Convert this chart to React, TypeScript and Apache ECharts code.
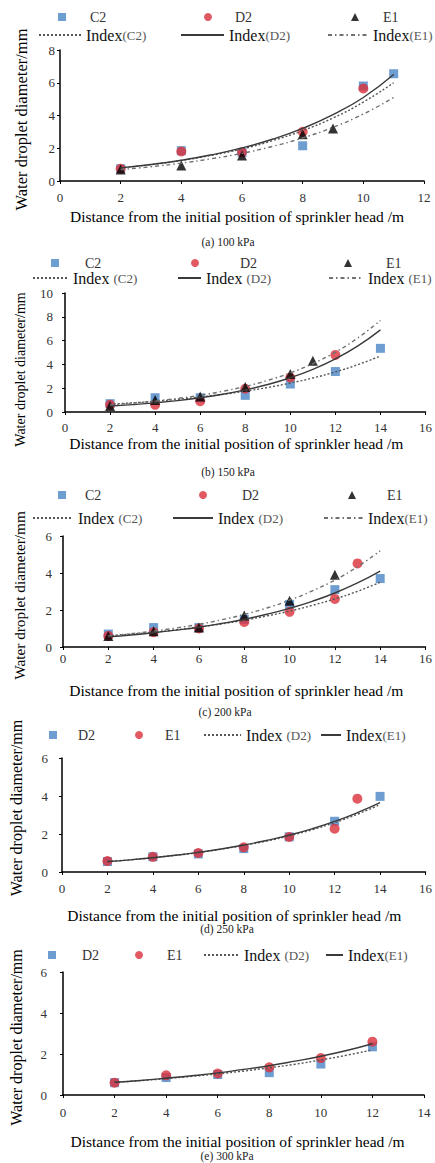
import React, { useEffect, useRef } from "react";
import * as echarts from "echarts";

// ---------------- data ----------------
// (a) 100 kPa
const a_C2 = [[2, 0.75], [4, 1.85], [6, 1.75], [8, 2.15], [10, 5.8], [11, 6.55]];
const a_D2 = [[2, 0.75], [4, 1.8], [6, 1.75], [8, 3.0], [10, 5.65]];
const a_E1 = [[2, 0.7], [4, 0.95], [6, 1.55], [8, 2.85], [9, 3.2]];
const a_fitX = [2, 3, 4, 5, 6, 7, 8, 9, 10, 11];
const a_fitC2 = [0.8, 1.0, 1.25, 1.57, 1.96, 2.46, 3.08, 3.85, 4.82, 6.0];
const a_fitD2 = [0.8, 1.01, 1.27, 1.6, 2.02, 2.55, 3.21, 4.05, 5.1, 6.5];
const a_fitE1 = [0.7, 0.87, 1.09, 1.36, 1.69, 2.11, 2.63, 3.28, 4.09, 5.1];

// (b) 150 kPa
const b_C2 = [[2, 0.7], [4, 1.2], [6, 1.2], [8, 1.4], [10, 2.35], [12, 3.4], [14, 5.35]];
const b_D2 = [[2, 0.6], [4, 0.6], [6, 0.9], [8, 1.95], [10, 2.9], [12, 4.8]];
const b_E1 = [[2, 0.5], [4, 1.0], [6, 1.3], [8, 2.1], [10, 3.2], [11, 4.3]];
const b_fitX = [2, 3, 4, 5, 6, 7, 8, 9, 10, 11, 12, 13, 14];
const b_fitC2 = [0.65, 0.77, 0.9, 1.07, 1.26, 1.48, 1.75, 2.06, 2.43, 2.86, 3.37, 3.98, 4.7];
const b_fitD2 = [0.5, 0.62, 0.77, 0.96, 1.2, 1.49, 1.86, 2.31, 2.88, 3.58, 4.46, 5.55, 6.9];
const b_fitE1 = [0.6, 0.74, 0.92, 1.14, 1.4, 1.74, 2.15, 2.66, 3.29, 4.07, 5.03, 6.23, 7.7];

// (c) 200 kPa
const c_C2 = [[2, 0.7], [4, 1.05], [6, 1.05], [8, 1.5], [10, 2.3], [12, 3.1], [14, 3.7]];
const c_D2 = [[2, 0.6], [4, 0.8], [6, 1.0], [8, 1.35], [10, 1.9], [12, 2.6], [13, 4.52]];
const c_E1 = [[2, 0.6], [4, 0.85], [6, 1.05], [8, 1.7], [10, 2.5], [12, 3.9]];
const c_fitX = [2, 3, 4, 5, 6, 7, 8, 9, 10, 11, 12, 13, 14];
const c_fitC2 = [0.6, 0.7, 0.8, 0.93, 1.08, 1.25, 1.45, 1.68, 1.94, 2.25, 2.6, 3.01, 3.5];
const c_fitD2 = [0.55, 0.65, 0.77, 0.91, 1.07, 1.27, 1.5, 1.77, 2.09, 2.47, 2.92, 3.46, 4.1];
const c_fitE1 = [0.6, 0.72, 0.86, 1.03, 1.23, 1.47, 1.76, 2.11, 2.53, 3.03, 3.62, 4.34, 5.2];

// (d) 250 kPa
const d_D2 = [[2, 0.55], [4, 0.8], [6, 0.95], [8, 1.23], [10, 1.85], [12, 2.67], [14, 3.98]];
const d_E1 = [[2, 0.58], [4, 0.8], [6, 1.0], [8, 1.3], [10, 1.84], [12, 2.28], [13, 3.86]];
const d_fitX = [2, 3, 4, 5, 6, 7, 8, 9, 10, 11, 12, 13, 14];
const d_fitD2 = [0.55, 0.64, 0.75, 0.88, 1.02, 1.2, 1.4, 1.63, 1.9, 2.22, 2.6, 3.04, 3.55];
const d_fitE1 = [0.55, 0.64, 0.75, 0.88, 1.03, 1.21, 1.42, 1.66, 1.94, 2.27, 2.66, 3.12, 3.65];

// (e) 300 kPa
const e_D2 = [[2, 0.6], [4, 0.85], [6, 1.0], [8, 1.09], [10, 1.51], [12, 2.35]];
const e_E1 = [[2, 0.6], [4, 0.96], [6, 1.05], [8, 1.35], [10, 1.8], [12, 2.6]];
const e_fitX = [2, 3, 4, 5, 6, 7, 8, 9, 10, 11, 12];
const e_fitD2 = [0.62, 0.7, 0.8, 0.91, 1.03, 1.17, 1.33, 1.5, 1.71, 1.94, 2.2];
const e_fitE1 = [0.62, 0.71, 0.82, 0.94, 1.08, 1.25, 1.43, 1.65, 1.89, 2.17, 2.5];

const captions = ["(a) 100 kPa", "(b) 150 kPa", "(c) 200 kPa", "(d) 250 kPa", "(e) 300 kPa"];
const xAxisTitle = "Distance from the initial position of sprinkler head /m";
const yAxisTitle = "Water droplet diameter/mm";

// ---------------- styles ----------------
const FONT = '"Liberation Serif", "Times New Roman", serif';
const BLUE = "#4a84c6";
const RED = "#db2f3b";
const BLACK = "#000000";
const SOLID = { type: "solid", color: "#3a3a3a", width: 1.4 };
const DOTTED = { type: [2, 2], color: "#555555", width: 1.4 };
const DASHDOT = { type: [4, 3, 1.5, 3], color: "#707070", width: 1.4 };

const pairs = (xs: number[], ys: number[]) => xs.map((x, i) => [x, ys[i]]);

type Panel = {
  grid: { left: number; top: number; width: number; height: number };
  xMax: number;
  yMax: number;
  xLabelMargin: number;
  yLabelMargin: number;
  xNameGap: number;
  xNamePadR: number;
  yNameGap: number;
  yNameShift: number;
  yNameSize: number;
  caption: { x: number; y: number };
  scatters: { name: string; data: number[][]; symbol: string; color: string; size: number }[];
  fits: { name: string; x: number[]; y: number[]; style: any }[];
};

const panels: Panel[] = [
  {
    grid: { left: 60, top: 50, width: 364, height: 131 },
    xMax: 12, yMax: 8, xLabelMargin: 10, yLabelMargin: 5, xNameGap: 27, xNamePadR: 10,
    yNameGap: 30, yNameShift: 4, yNameSize: 16.5,
    caption: { x: 228, y: 242 },
    scatters: [
      { name: "a:C2", data: a_C2, symbol: "rect", color: BLUE, size: 9 },
      { name: "a:D2", data: a_D2, symbol: "circle", color: RED, size: 10 },
      { name: "a:E1", data: a_E1, symbol: "triangle", color: BLACK, size: 10 },
    ],
    fits: [
      { name: "a:Index|(C2)", x: a_fitX, y: a_fitC2, style: DOTTED },
      { name: "a:Index|(D2)", x: a_fitX, y: a_fitD2, style: SOLID },
      { name: "a:Index|(E1)", x: a_fitX, y: a_fitE1, style: DASHDOT },
    ],
  },
  {
    grid: { left: 65, top: 293, width: 362, height: 119 },
    xMax: 16, yMax: 10, xLabelMargin: 9, yLabelMargin: 12, xNameGap: 23, xNamePadR: 18,
    yNameGap: 38, yNameShift: 17, yNameSize: 14,
    caption: { x: 228, y: 472 },
    scatters: [
      { name: "b:C2", data: b_C2, symbol: "rect", color: BLUE, size: 9 },
      { name: "b:D2", data: b_D2, symbol: "circle", color: RED, size: 10 },
      { name: "b:E1", data: b_E1, symbol: "triangle", color: BLACK, size: 10 },
    ],
    fits: [
      { name: "b:Index |(C2)", x: b_fitX, y: b_fitC2, style: DOTTED },
      { name: "b:Index |(D2)", x: b_fitX, y: b_fitD2, style: SOLID },
      { name: "b:Index |(E1)", x: b_fitX, y: b_fitE1, style: DASHDOT },
    ],
  },
  {
    grid: { left: 63, top: 536, width: 364, height: 111 },
    xMax: 16, yMax: 6, xLabelMargin: 5, yLabelMargin: 11, xNameGap: 35, xNamePadR: 16,
    yNameGap: 36, yNameShift: 4, yNameSize: 15.3,
    caption: { x: 225, y: 712 },
    scatters: [
      { name: "c:C2", data: c_C2, symbol: "rect", color: BLUE, size: 9 },
      { name: "c:D2", data: c_D2, symbol: "circle", color: RED, size: 10 },
      { name: "c:E1", data: c_E1, symbol: "triangle", color: BLACK, size: 10 },
    ],
    fits: [
      { name: "c:Index |(C2)", x: c_fitX, y: c_fitC2, style: DOTTED },
      { name: "c:Index |(D2)", x: c_fitX, y: c_fitD2, style: SOLID },
      { name: "c:Index|(E1)", x: c_fitX, y: c_fitE1, style: DASHDOT },
    ],
  },
  {
    grid: { left: 61, top: 758, width: 371, height: 114 },
    xMax: 16, yMax: 6, xLabelMargin: 10, yLabelMargin: 14, xNameGap: 35, xNamePadR: 19,
    yNameGap: 38, yNameShift: -7, yNameSize: 16,
    caption: { x: 227, y: 929 },
    scatters: [
      { name: "d:D2", data: d_D2, symbol: "rect", color: BLUE, size: 9 },
      { name: "d:E1", data: d_E1, symbol: "circle", color: RED, size: 10 },
    ],
    fits: [
      { name: "d:Index |(D2)", x: d_fitX, y: d_fitD2, style: DOTTED },
      { name: "d:Index|(E1)", x: d_fitX, y: d_fitE1, style: SOLID },
    ],
  },
  {
    grid: { left: 62, top: 972, width: 362, height: 123 },
    xMax: 14, yMax: 6, xLabelMargin: 11, yLabelMargin: 16, xNameGap: 38, xNamePadR: 12,
    yNameGap: 39, yNameShift: 4, yNameSize: 16,
    caption: { x: 227, y: 1156 },
    scatters: [
      { name: "e:D2", data: e_D2, symbol: "rect", color: BLUE, size: 9 },
      { name: "e:E1", data: e_E1, symbol: "circle", color: RED, size: 10 },
    ],
    fits: [
      { name: "e:Index |(D2)", x: e_fitX, y: e_fitD2, style: DOTTED },
      { name: "e:Index|(E1)", x: e_fitX, y: e_fitE1, style: SOLID },
    ],
  },
];

// legend layout: [seriesName, iconLeft, centerY, textStart]
const symbolLegends: [string, number, number, number][] = [
  ["a:C2", 58, 17, 90], ["a:D2", 204, 17, 235], ["a:E1", 351, 17, 383],
  ["b:C2", 51, 263, 85], ["b:D2", 191, 263, 240], ["b:E1", 344, 263, 386],
  ["c:C2", 58, 495, 85], ["c:D2", 199, 495, 242], ["c:E1", 348, 495, 387],
  ["d:D2", 49, 735, 78], ["d:E1", 135, 735, 165],
  ["e:D2", 48, 955, 82], ["e:E1", 135, 955, 167],
];
const lineLegends: [string, number, number, number][] = [
  ["a:Index|(C2)", 38, 35, 85], ["a:Index|(D2)", 180, 35, 228], ["a:Index|(E1)", 327, 35, 372],
  ["b:Index |(C2)", 32, 278, 72], ["b:Index |(D2)", 177, 278, 205], ["b:Index |(E1)", 328, 278, 367],
  ["c:Index |(C2)", 32, 518, 77], ["c:Index |(D2)", 172, 518, 217], ["c:Index|(E1)", 323, 518, 367],
  ["d:Index |(D2)", 203, 735, 245], ["d:Index|(E1)", 320, 735, 345],
  ["e:Index |(D2)", 203, 955, 243], ["e:Index|(E1)", 325, 955, 347],
];

function buildOption() {
  const grid: any[] = [];
  const xAxis: any[] = [];
  const yAxis: any[] = [];
  const series: any[] = [];
  const graphic: any[] = [];
  panels.forEach((p, i) => {
    grid.push({ ...p.grid, containLabel: false });
    const axisLine = { show: true, lineStyle: { color: "#000", width: 1.5 } };
    const axisTick = { show: true, length: 3, lineStyle: { color: "#000", width: 1 } };
    xAxis.push({
      gridIndex: i, type: "value", min: 0, max: p.xMax, interval: 2,
      axisLine, axisTick, splitLine: { show: false },
      axisLabel: { margin: p.xLabelMargin, fontFamily: FONT, fontSize: 13, color: "#333" },
      name: xAxisTitle, nameLocation: "middle", nameGap: p.xNameGap,
      nameTextStyle: { fontFamily: FONT, fontSize: 15.5, color: "#000", padding: [0, p.xNamePadR, 0, 0] },
    });
    const dn = p.yNameShift;
    yAxis.push({
      gridIndex: i, type: "value", min: 0, max: p.yMax, interval: 2,
      axisLine, axisTick, splitLine: { show: false },
      axisLabel: { margin: p.yLabelMargin, fontFamily: FONT, fontSize: 13, color: "#333" },
      name: yAxisTitle, nameLocation: "middle", nameGap: p.yNameGap,
      nameTextStyle: {
        fontFamily: FONT, fontSize: p.yNameSize, color: "#000",
        padding: dn >= 0 ? [0, 2 * dn, 0, 0] : [0, 0, 0, -2 * dn],
      },
    });
    p.scatters.forEach((s) => {
      series.push({
        type: "scatter", name: s.name, xAxisIndex: i, yAxisIndex: i, data: s.data,
        symbol: s.symbol, symbolSize: s.size, itemStyle: { color: s.color }, z: 2,
      });
    });
    p.fits.forEach((f) => {
      series.push({
        type: "line", name: f.name, xAxisIndex: i, yAxisIndex: i, data: pairs(f.x, f.y),
        smooth: true, symbol: "none", showSymbol: false, lineStyle: f.style,
        itemStyle: { color: f.style.color }, z: 3,
      });
    });
    graphic.push({
      type: "text", x: p.caption.x, y: p.caption.y,
      style: {
        text: captions[i], fontFamily: FONT, fontSize: 11.5, fill: "#222",
        align: "center", verticalAlign: "middle", textAlign: "center", textVerticalAlign: "middle",
      },
    });
  });

  const legend: any[] = [];
  symbolLegends.forEach(([name, left, cy, textStart]) => {
    legend.push({
      data: [name], left, top: cy - 7, padding: 0, itemWidth: 8, itemHeight: 8, itemGap: 0,
      selectedMode: false,
      formatter: (n: string) => n.split(":")[1],
      textStyle: { fontFamily: FONT, fontSize: 14, color: "#333", lineHeight: 14, padding: [0, 0, 0, textStart - left - 13] },
    });
  });
  lineLegends.forEach(([name, left, cy, textStart]) => {
    legend.push({
      data: [name], left, top: cy - 8, padding: 0, itemWidth: textStart - left - 5, itemHeight: 8, itemGap: 0,
      selectedMode: false,
      itemStyle: { opacity: 0, borderWidth: 0 },
      formatter: (n: string) => {
        const [m, s] = n.split(":")[1].split("|");
        return `{m|${m}}{s|${s}}`;
      },
      textStyle: {
        lineHeight: 16,
        rich: {
          m: { fontFamily: FONT, fontSize: 16, color: "#111", lineHeight: 16 },
          s: { fontFamily: FONT, fontSize: 13, color: "#555", lineHeight: 16 },
        },
      },
    });
  });

  return {
    animation: false,
    backgroundColor: "#ffffff",
    grid, xAxis, yAxis, series, legend, graphic,
  };
}

export default function App() {
  const ref = useRef<HTMLDivElement>(null);
  useEffect(() => {
    if (!ref.current) return;
    const chart = echarts.init(ref.current, undefined, { renderer: "svg" });
    chart.setOption(buildOption() as any);
    return () => chart.dispose();
  }, []);
  return (
    <div
      ref={ref}
      style={{ position: "absolute", left: 0, top: 0, width: 435, height: 1163, background: "#fff" }}
    />
  );
}
